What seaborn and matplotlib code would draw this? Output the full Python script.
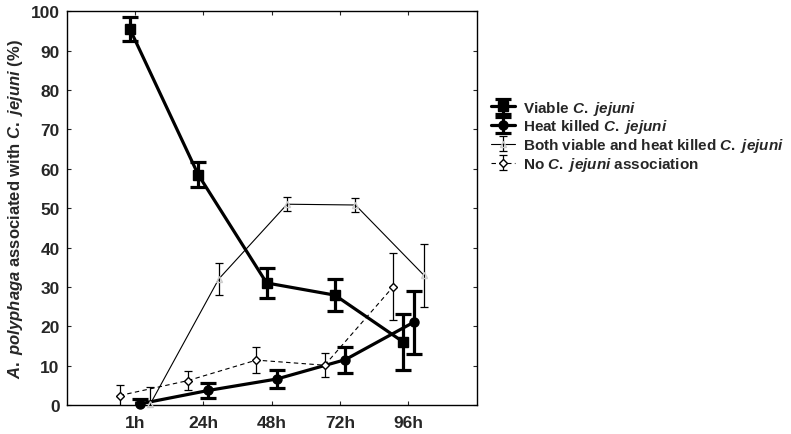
import numpy as np
import pandas as pd
import matplotlib
matplotlib.use('Agg')
import matplotlib.pyplot as plt
import seaborn as sns
from matplotlib.legend_handler import HandlerTuple

# data
times = ['1h', '24h', '48h', '72h', '96h']
viable = [95.5, 58.5, 31.0, 27.9, 16.0]
viable_err = [3.1, 3.2, 3.8, 4.0, 7.0]
heat_killed = [0.3, 3.7, 6.6, 11.5, 21.0]
heat_killed_err = [1.2, 1.9, 2.3, 3.3, 8.0]
both = [0.3, 32.0, 51.0, 50.8, 33.0]
both_err = [4.3, 4.0, 1.8, 1.8, 8.0]
no_assoc = [2.4, 6.2, 11.4, 10.1, 30.0]
no_assoc_err = [2.6, 2.5, 3.3, 3.0, 8.5]

cj = r'$\mathit{C.}$ $\mathit{jejuni}$'
labels = ['Viable ' + cj,
          'Heat killed ' + cj,
          'Both viable and heat killed ' + cj,
          'No ' + cj + ' association']

sns.set_style('ticks')
plt.rcParams['font.family'] = ['Liberation Sans', 'DejaVu Sans']
plt.rcParams['font.weight'] = 'bold'
plt.rcParams['mathtext.fontset'] = 'custom'
plt.rcParams['mathtext.rm'] = 'Liberation Sans:bold'
plt.rcParams['mathtext.it'] = 'Liberation Sans:italic:bold'
plt.rcParams['mathtext.bf'] = 'Liberation Sans:bold'

fig = plt.figure(figsize=(7.91, 4.35), dpi=100)
ax = fig.add_axes([0.0843, 0.0667, 0.5184, 0.905])

series = [
    (viable, viable_err, -0.075, dict(color='black', lw=2.3, ls='-', marker='s', ms=6.5,
                                      mfc='black', mec='black'), 2.3, 5.5),
    (heat_killed, heat_killed_err, 0.075, dict(color='black', lw=2.3, ls='-', marker='o', ms=6.5,
                                               mfc='black', mec='black'), 2.3, 5.5),
    (both, both_err, 0.225, dict(color='black', lw=0.8, ls='-', marker='^', ms=5,
                                 mfc='none', mec='#cccccc'), 0.9, 3.0),
    (no_assoc, no_assoc_err, -0.225, dict(color='black', lw=0.8, ls=(0, (4, 3)), marker='D', ms=4,
                                          mfc='white', mec='black'), 0.9, 3.0),
]

handles = []
for (vals, errs, off, style, elw, cap), lab in zip(series, labels):
    df = pd.DataFrame({'x': np.arange(len(times)) + off, 'y': vals})
    sns.lineplot(data=df, x='x', y='y', ax=ax, color=style['color'], linewidth=style['lw'],
                 linestyle=style['ls'], marker=style['marker'], markersize=style['ms'],
                 markerfacecolor=style['mfc'], markeredgecolor=style['mec'],
                 markeredgewidth=1.0, clip_on=False, zorder=3)
    line = ax.lines[-1]
    eb = ax.errorbar(df['x'], df['y'], yerr=errs, fmt='none', ecolor='black',
                     elinewidth=elw, capsize=cap, capthick=elw, zorder=2)
    handles.append((eb, line))

ax.set_xlim(-1, 5)
ax.set_ylim(0, 100)
ax.set_xticks(range(len(times)))
ax.set_xticklabels(times)
ax.set_yticks(range(0, 101, 10))
ax.tick_params(direction='in', top=True, right=True, labelsize=12.5, length=3,
               width=0.8, pad=5)
ax.tick_params(axis='x', pad=7)
for t in ax.get_xticklabels() + ax.get_yticklabels():
    t.set_fontweight('bold')
ax.set_xlabel('')
ax.set_ylabel(r'$\mathit{A.}$ $\mathit{polyphaga}$ associated with ' + cj + ' (%)',
              fontsize=12, fontweight='bold', labelpad=4)
for s in ax.spines.values():
    s.set_linewidth(1.0)
    s.set_color('black')

fig.legend(handles, labels, loc='upper left', bbox_to_anchor=(0.613, 0.785),
           frameon=False, fontsize=11, handlelength=1.6, handletextpad=0.5,
           labelspacing=0.05, borderaxespad=0,
           handler_map={tuple: HandlerTuple(ndivide=1)})

fig.savefig('out.png', dpi=100)
